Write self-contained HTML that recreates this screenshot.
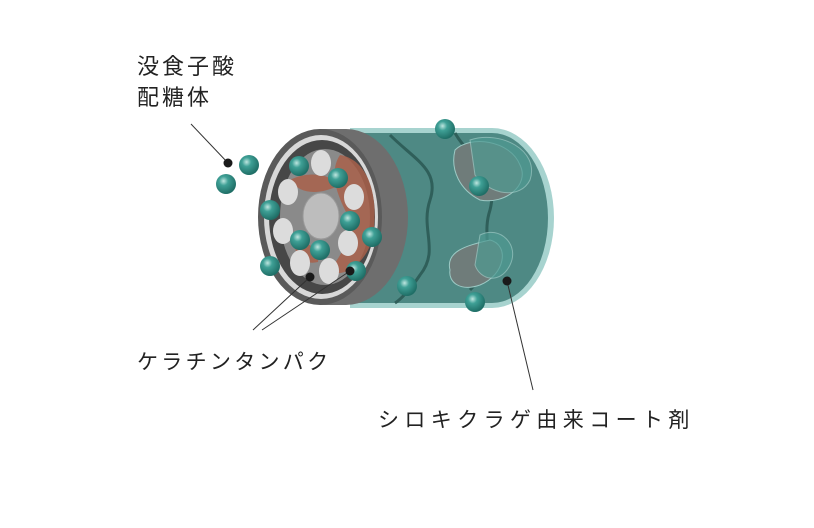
<!DOCTYPE html>
<html><head><meta charset="utf-8"><style>
html,body{margin:0;padding:0;background:#fff;}
svg{display:block}
text{font-family:"Liberation Sans","Noto Sans CJK JP",sans-serif;fill:#222;}
</style></head><body>
<svg width="814" height="528" viewBox="0 0 814 528" xmlns="http://www.w3.org/2000/svg">
<defs>
<radialGradient id="ball" cx="0.38" cy="0.35" r="0.65">
<stop offset="0" stop-color="#bfe6e0"/><stop offset="0.35" stop-color="#3fa096"/><stop offset="1" stop-color="#1f6e66"/>
</radialGradient>
<g id="b"><circle r="10" fill="url(#ball)"/></g>
</defs>
<text x="137" y="74" font-size="22" letter-spacing="3">没食子酸</text>
<text x="137" y="105" font-size="22" letter-spacing="3">配糖体</text>
<text x="137" y="369" font-size="21" letter-spacing="3.3">ケラチンタンパク</text>
<text x="378" y="427" font-size="21" letter-spacing="5.4">シロキクラゲ由来コート剤</text>
<path d="M350,128 H492 A62,90 0 0 1 492,308 H350 Z" fill="#a7d3cf"/>
<path d="M350,133 H492 A56,85 0 0 1 492,303 H350 Z" fill="#4e8984"/>
<path d="M390,135 C415,160 440,170 430,200 C420,230 440,250 420,275 C410,290 400,300 395,303" fill="none" stroke="#2f5f5a" stroke-width="3"/>
<path d="M455,133 C470,160 500,170 490,210 C480,240 500,260 470,290" fill="none" stroke="#2f5f5a" stroke-width="3"/>
<path d="M455,150 C470,135 510,140 520,165 C530,185 505,205 480,200 C460,190 450,170 455,150Z" fill="#6f7c7a" stroke="#9ccac5" stroke-width="1"/>
<path d="M470,140 C500,130 540,150 530,180 C520,200 490,195 475,175Z" fill="#4e9a92" opacity="0.7" stroke="#9ccac5"/>
<path d="M450,270 C445,250 470,245 490,240 C510,245 505,275 480,285 C460,292 448,282 450,270Z" fill="#6f7c7a" stroke="#9ccac5"/>
<path d="M480,235 C500,225 520,245 510,265 C500,285 480,280 475,265Z" fill="#4e9a92" opacity="0.7" stroke="#9ccac5"/>
<path d="M320,129 H346 A62,88 0 0 1 346,305 H320 Z" fill="#6e6e6e"/>
<ellipse cx="320" cy="217" rx="62" ry="88" fill="#5a5a5a"/>
<ellipse cx="321" cy="217" rx="57" ry="82" fill="#d8d8d8"/>
<ellipse cx="322" cy="217" rx="53" ry="77" fill="#474747"/>
<ellipse cx="325" cy="217" rx="45" ry="68" fill="#8a8a8a"/>
<path d="M340,155 C370,160 380,200 372,240 C365,265 340,280 330,270 C345,250 355,230 345,210 C335,190 330,170 340,155Z" fill="#a8604a" opacity="0.85"/>
<path d="M290,180 C310,170 330,175 340,185 C320,195 300,195 290,180Z" fill="#a8604a" opacity="0.85"/>
<path d="M295,245 C310,240 320,250 318,262 C305,265 295,258 295,245Z" fill="#a8604a" opacity="0.85"/>
<g fill="#dcdcdc">
<ellipse cx="321" cy="163" rx="10" ry="13"/><ellipse cx="288" cy="192" rx="10" ry="13"/>
<ellipse cx="354" cy="197" rx="10" ry="13"/><ellipse cx="283" cy="231" rx="10" ry="13"/>
<ellipse cx="348" cy="243" rx="10" ry="13"/><ellipse cx="300" cy="263" rx="10" ry="13"/>
<ellipse cx="329" cy="271" rx="10" ry="13"/>
</g>
<ellipse cx="321" cy="216" rx="18" ry="23" fill="#bdbdbd" stroke="#9a9a9a"/>
<use href="#b" x="249" y="165"/><use href="#b" x="226" y="184"/>
<use href="#b" x="299" y="166"/><use href="#b" x="338" y="178"/>
<use href="#b" x="270" y="210"/><use href="#b" x="350" y="221"/>
<use href="#b" x="300" y="240"/><use href="#b" x="320" y="250"/>
<use href="#b" x="372" y="237"/><use href="#b" x="270" y="266"/>
<use href="#b" x="356" y="271"/><use href="#b" x="445" y="129"/>
<use href="#b" x="479" y="186"/><use href="#b" x="407" y="286"/>
<use href="#b" x="475" y="302"/>
<line x1="191" y1="124" x2="228" y2="163" stroke="#333" stroke-width="1"/>
<circle cx="228" cy="163" r="4.5" fill="#1a1a1a"/>
<line x1="253" y1="330" x2="310" y2="277" stroke="#333"/>
<line x1="262" y1="330" x2="350" y2="271" stroke="#333"/>
<circle cx="310" cy="277" r="4.5" fill="#1a1a1a"/>
<circle cx="350" cy="271" r="4.5" fill="#1a1a1a"/>
<line x1="507" y1="281" x2="533" y2="390" stroke="#333"/>
<circle cx="507" cy="281" r="4.5" fill="#1a1a1a"/>
</svg>
</body></html>
